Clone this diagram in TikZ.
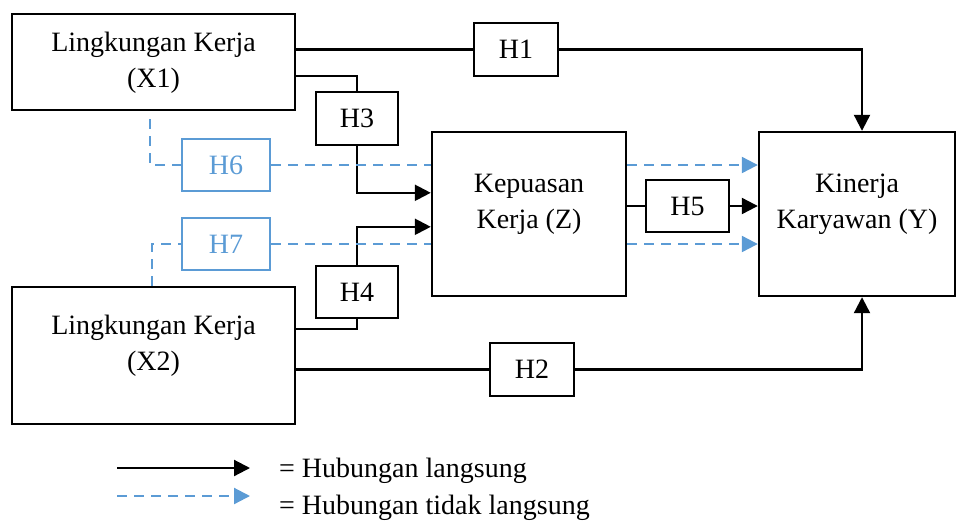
\documentclass[tikz,border=0pt]{standalone}
\usepackage{fontspec}
\setmainfont{Liberation Serif}
\usetikzlibrary{arrows.meta,calc}
\definecolor{lblue}{HTML}{5B9BD5}
\begin{document}
\begin{tikzpicture}[x=1pt,y=-1pt,
  box/.style={draw,line width=2.4pt,rectangle,inner sep=0pt},
  bbox/.style={box,draw=lblue,text=lblue},
  hbox/.style={box,minimum width=84pt,minimum height=53pt,font=\fontsize{28}{36}\selectfont},
  txt/.style={font=\fontsize{28}{36}\selectfont,align=center,inner sep=0pt},
  conn/.style={line width=2.2pt},
  arr/.style={conn,-{Triangle[length=16pt,width=16pt]}},
  dconn/.style={line width=2.2pt,draw=lblue,dash pattern=on 10pt off 7pt},
  darr/.style={dconn,-{Triangle[length=16pt,width=16pt]}}]
\useasboundingbox (0,0) rectangle (957,520);

% main boxes
\node[box,minimum width=283pt,minimum height=96pt] (X1) at (153.5,62) {};
\node[txt] (X1t) at ($(X1.center)+(0,1)$) {Lingkungan Kerja\\(X1)};
\node[box,minimum width=283pt,minimum height=137pt] (X2) at (153.5,355.5) {};
\node[txt] (X2t) at ($(X2.center)+(0,-10)$) {Lingkungan Kerja\\(X2)};
\node[box,minimum width=194pt,minimum height=164pt] (Z) at (529,214) {};
\node[txt] (Zt) at ($(Z.center)+(0,-10)$) {Kepuasan\\Kerja (Z)};
\node[box,minimum width=196pt,minimum height=164pt] (Y) at (857,214) {};
\node[txt] (Yt) at ($(Y.center)+(0,-10)$) {Kinerja\\Karyawan (Y)};

% hypothesis boxes
\node[hbox] (H1) at (516,49.5) {H1};
\node[hbox,minimum width=82pt] (H3) at (357,118.5) {H3};
\node[hbox,minimum width=83pt,minimum height=52pt] (H5) at (687.5,206) {H5};
\node[hbox,bbox,minimum width=88pt,minimum height=52pt] (H6) at (226,165) {H6};
\node[hbox,bbox,minimum width=88pt,minimum height=52pt] (H7) at (226,244) {H7};
\node[hbox,minimum width=82pt,minimum height=52pt] (H4) at (357,292) {H4};
\node[hbox] (H2) at (532,369.5) {H2};

% direct connectors
\coordinate (Ytop) at ($(Y.north)+(5,0)$);
\coordinate (Ybot) at ($(Y.south)+(5,0)$);
\draw[conn] (X1.east |- H1.west) -- (H1.west);
\draw[arr] (H1.east) -| (Ytop);
\coordinate (x1a) at ($(X1.north east)+(0,63)$);
\draw[conn] (x1a) -| (H3.north);
\coordinate (z3) at ($(Z.north west)+(0,62)$);
\draw[arr] (H3.south) |- (z3);
\coordinate (x2a) at ($(X2.north east)+(0,43)$);
\draw[conn] (x2a) -| (H4.south);
\coordinate (z4) at ($(Z.north west)+(0,96)$);
\draw[arr] (H4.north) |- (z4);
\draw[conn] (X2.east |- H2.west) -- (H2.west);
\draw[arr] (H2.east) -| (Ybot);
\draw[conn] (Z.east |- H5.west) -- (H5.west);
\draw[arr] (H5.east) -- (Y.west |- H5.east);

% indirect connectors
\coordinate (x1d) at ($(X1.south west)+(139,8)$);
\draw[dconn] (x1d) |- (H6.west);
\draw[dconn] (H6.east) -- (Z.west |- H6.east);
\draw[darr] (Z.east |- H6.east) -- (Y.west |- H6.east);
\coordinate (x2d) at ($(X2.north west)+(141,0)$);
\draw[dconn] (x2d) |- (H7.west);
\draw[dconn] (H7.east) -- (Z.west |- H7.east);
\draw[darr] (Z.east |- H7.east) -- (Y.west |- H7.east);

% legend
\coordinate (l1a) at (117,468);
\coordinate (l1b) at (250,468);
\coordinate (l2a) at (117,496);
\coordinate (l2b) at (250,496);
\draw[arr] (l1a) -- (l1b);
\draw[darr] (l2a) -- (l2b);
\node[txt,anchor=base west] (L1) at (279,477) {= Hubungan langsung};
\node[txt,anchor=base west] (L2) at (279,514) {= Hubungan tidak langsung};
\end{tikzpicture}
\end{document}
